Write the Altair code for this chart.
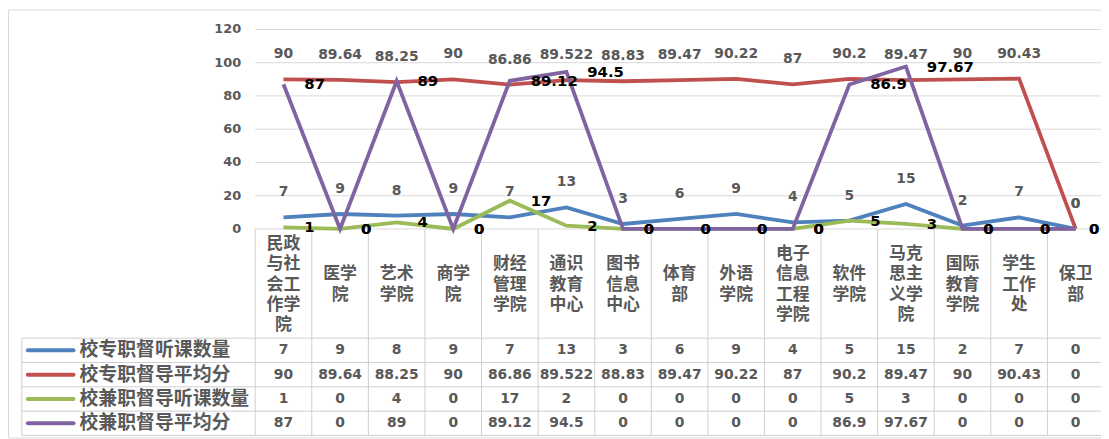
import altair as alt
import pandas as pd

# ---------------- data ----------------
categories = ["民政与社会工作学院", "医学院", "艺术学院", "商学院", "财经管理学院",
              "通识教育中心", "图书信息中心", "体育部", "外语学院", "电子信息工程学院",
              "软件学院", "马克思主义学院", "国际教育学院", "学生工作处", "保卫部"]
series_names = ["校专职督听课数量", "校专职督导平均分", "校兼职督导听课数量", "校兼职督导平均分"]
s_pro_count = [7, 9, 8, 9, 7, 13, 3, 6, 9, 4, 5, 15, 2, 7, 0]
s_pro_score = [90, 89.64, 88.25, 90, 86.86, 89.522, 88.83, 89.47, 90.22, 87, 90.2, 89.47, 90, 90.43, 0]
s_part_count = [1, 0, 4, 0, 17, 2, 0, 0, 0, 0, 5, 3, 0, 0, 0]
s_part_score = [87, 0, 89, 0, 89.12, 94.5, 0, 0, 0, 0, 86.9, 97.67, 0, 0, 0]
series_colors = ["#4F81BD", "#C0504D", "#9BBB59", "#8064A2"]
y_ticks = [0, 20, 40, 60, 80, 100, 120]

series_values = [s_pro_count, s_pro_score, s_part_count, s_part_score]

# ---------------- layout ----------------
W, H = 1101, 431
COL = 57.0             # px per category column
PLOT_LEFT = 249.0      # view px of first column's left edge
Y0_PX = 221.0          # view px of value 0
PX_PER_UNIT = 201.0 / 120
HEADER_PX = 110.0
ROW_PX = 24.5
LEGEND_LEFT_PX = 14.0
HDR_LH = 20.5

def px2x(px):
    return (px - PLOT_LEFT) / COL

def x2px(x):
    return PLOT_LEFT + x * COL

def px2y(py):
    return (Y0_PX - py) / PX_PER_UNIT

n = len(categories)
xs = alt.Scale(domain=[px2x(0), px2x(W)], nice=False, zero=False)
ys = alt.Scale(domain=[px2y(H), px2y(0)], nice=False, zero=False)
X = lambda f: alt.X(f, type="quantitative", scale=xs, axis=None)
Y = lambda f: alt.Y(f, type="quantitative", scale=ys, axis=None)

CJK = "Noto Sans CJK SC"
NUM = "DejaVu Sans"
GRAY_TXT = "#595959"
GRID = "#D9D9D9"

def fmt(v):
    return f"{v:g}"

layers = []

# gridlines of the plot
grid_df = pd.DataFrame({"y": y_ticks, "x": [0] * len(y_ticks), "x2": [n] * len(y_ticks)})
layers.append(alt.Chart(grid_df).mark_rule(color=GRID, strokeWidth=1).encode(
    x=X("x"), x2="x2", y=Y("y")))

# y tick labels
ylab_df = pd.DataFrame({"y": y_ticks, "x": [px2x(235)] * len(y_ticks),
                        "t": [str(v) for v in y_ticks]})
layers.append(alt.Chart(ylab_df).mark_text(align="right", baseline="middle", font=NUM,
                                           fontSize=13, fontWeight="bold", color=GRAY_TXT).encode(
    x=X("x"), y=Y("y"), text="t:N"))

# table grid
header_bottom_py = Y0_PX + HEADER_PX
row_lines_py = [header_bottom_py + ROW_PX * k for k in range(len(series_names) + 1)]
table_bottom_py = row_lines_py[-1]
hl_df = pd.DataFrame({"y": [px2y(p) for p in row_lines_py],
                      "x": [px2x(LEGEND_LEFT_PX)] * len(row_lines_py),
                      "x2": [n] * len(row_lines_py)})
layers.append(alt.Chart(hl_df).mark_rule(color="#CFCFCF", strokeWidth=1).encode(
    x=X("x"), x2="x2", y=Y("y")))
vx = list(range(n + 1))
vl_df = pd.DataFrame({"x": vx + [px2x(LEGEND_LEFT_PX)],
                      "y": [0.0] * len(vx) + [px2y(header_bottom_py)],
                      "y2": [px2y(table_bottom_py)] * (len(vx) + 1)})
layers.append(alt.Chart(vl_df).mark_rule(color="#CFCFCF", strokeWidth=1).encode(
    x=X("x"), y=Y("y"), y2="y2"))

# header category labels (2 chars per line), block centred vertically
def wrap2(s):
    return [s[i:i + 2] for i in range(0, len(s), 2)]

hdr_mid = Y0_PX + HEADER_PX / 2 + 1
hdr_rows = []
for i, c in enumerate(categories):
    lines = wrap2(c)
    first_py = hdr_mid - (len(lines) - 1) * HDR_LH / 2
    hdr_rows.append({"x": i + 0.5, "y": px2y(first_py), "t": "\n".join(lines)})
hdr_df = pd.DataFrame(hdr_rows)
layers.append(alt.Chart(hdr_df).mark_text(align="center", baseline="middle", lineBreak="\n",
                                          lineHeight=HDR_LH, font=CJK, fontSize=17,
                                          fontWeight="bold", color=GRAY_TXT).encode(
    x=X("x"), y=Y("y"), text="t:N"))

# table values and legend
row_centers_py = [header_bottom_py + ROW_PX * (k + 0.5) for k in range(len(series_names))]
tv_rows = []
for k, (name, vals) in enumerate(zip(series_names, series_values)):
    for i, v in enumerate(vals):
        tv_rows.append({"x": i + 0.5, "y": px2y(row_centers_py[k]), "t": fmt(v)})
tv_df = pd.DataFrame(tv_rows)
layers.append(alt.Chart(tv_df).mark_text(align="center", baseline="middle", font=NUM,
                                         fontSize=14, fontWeight="bold", color=GRAY_TXT).encode(
    x=X("x"), y=Y("y"), text="t:N"))

leg_df = pd.DataFrame({"name": series_names,
                       "y": [px2y(p) for p in row_centers_py],
                       "x": [px2x(20)] * len(series_names),
                       "x2": [px2x(66)] * len(series_names),
                       "xt": [px2x(72)] * len(series_names)})
layers.append(alt.Chart(leg_df).mark_rule(strokeWidth=4, strokeCap="round").encode(
    x=X("x"), x2="x2", y=Y("y"),
    color=alt.Color("name:N", scale=alt.Scale(domain=series_names, range=series_colors),
                    legend=None)))
layers.append(alt.Chart(leg_df).mark_text(align="left", baseline="middle", font=CJK,
                                          fontSize=19, fontWeight="bold", color=GRAY_TXT).encode(
    x=X("xt"), y=Y("y"), text="name:N"))

# series lines
for k, (name, vals) in enumerate(zip(series_names, series_values)):
    df = pd.DataFrame({"x": [i + 0.5 for i in range(n)], "y": vals})
    layers.append(alt.Chart(df).mark_line(color=series_colors[k], strokeWidth=3.8).encode(
        x=X("x"), y=Y("y")))

# data labels
for k, (name, vals) in enumerate(zip(series_names, series_values)):
    if k < 2:
        df = pd.DataFrame({"x": [i + 0.5 for i in range(n)], "y": vals,
                           "t": [fmt(v) for v in vals]})
        mk = alt.Chart(df).mark_text(align="center", baseline="middle", dy=-25, font=NUM,
                                     fontSize=14, fontWeight="bold", color=GRAY_TXT)
    else:
        # label to the right of the point, kept inside the chart like the original
        lx = []
        for i in range(n):
            px = x2px(i + 0.5)
            off = min(21.0, (W - 12.0) - px)
            lx.append(px2x(px + off))
        df = pd.DataFrame({"x": lx, "y": vals, "t": [fmt(v) for v in vals]})
        mk = alt.Chart(df).mark_text(align="left", baseline="middle", font=NUM,
                                     fontSize=15, fontWeight="bold", color="black")
    layers.append(mk.encode(x=X("x"), y=Y("y"), text="t:N"))

chart = alt.layer(*layers).properties(
    width=W, height=H, padding=0,
    autosize=alt.AutoSizeParams(type="none"),
    background="white",
).configure_view(stroke="#D9D9D9", strokeWidth=1)

chart.save("out.html", embed_options={"renderer": "svg", "actions": False})
